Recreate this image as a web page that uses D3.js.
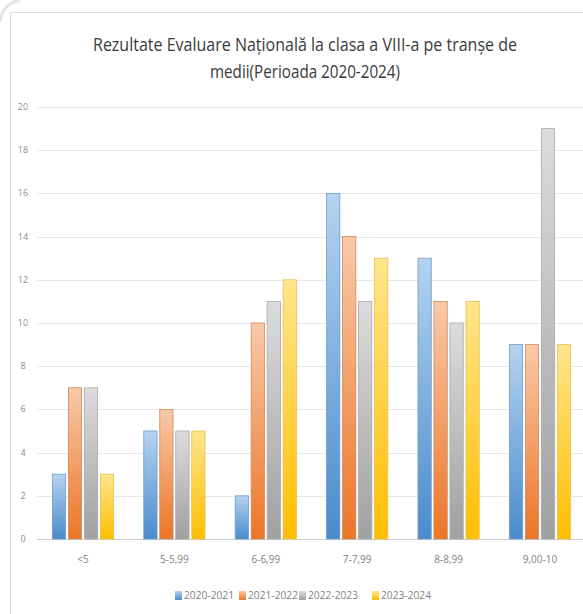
<!DOCTYPE html>
<html>
<head>
<meta charset="utf-8">
<script src="https://cdnjs.cloudflare.com/ajax/libs/d3/7.8.5/d3.min.js"></script>
<style>
  body { margin: 0; background: #ffffff; }
  svg { display: block; }
</style>
</head>
<body>
<div class="chart"></div>
<script>
var categories = ["<5", "5-5,99", "6-6,99", "7-7,99", "8-8,99", "9,00-10"];
var seriesNames = ["2020-2021", "2021-2022", "2022-2023", "2023-2024"];
var values2020 = [3, 5, 2, 16, 13, 9];
var values2021 = [7, 6, 10, 14, 11, 9];
var values2022 = [7, 5, 11, 11, 10, 19];
var values2023 = [3, 5, 12, 13, 11, 9];
var yTicks = [0, 2, 4, 6, 8, 10, 12, 14, 16, 18, 20];
var titleLines = ["Rezultate Evaluare Națională la clasa a VIII-a pe tranșe de", "medii(Perioada 2020-2024)"];

var allValues = [values2020, values2021, values2022, values2023];
var colors = [
  {light: "#b4d3f0", base: "#4a8bcc", line: "#6d9ccc"},
  {light: "#f9c9a8", base: "#ec7527", line: "#c98a62"},
  {light: "#dcdcdc", base: "#a0a0a0", line: "#a9a9a9"},
  {light: "#ffe58c", base: "#ffbe00", line: "#e8c04c"}
];

var width = 583, height = 614;
var font = "'Liberation Sans Narrow', 'Open Sans', Arial, sans-serif";

var svg = d3.select(".chart")
  .append("svg")
  .attr("width", width)
  .attr("height", height)

var defs = svg.append("defs");
colors.forEach(function(c, i) {
  var g = defs.append("linearGradient")
    .attr("id", "grad" + i)
    .attr("x1", 0).attr("y1", 0)
    .attr("x2", 0).attr("y2", 1)
  g.append("stop").attr("offset", "0%").attr("stop-color", c.light)
  g.append("stop").attr("offset", "100%").attr("stop-color", c.base)
});

// card frame
svg.append("rect")
  .attr("x", 10.5)
  .attr("y", 12.5)
  .attr("width", width)
  .attr("height", height)
  .attr("fill", "#ffffff")
  .attr("stroke", "#dcdcdc")
svg.append("path")
  .attr("d", "M0,22 Q2,4 20,0")
  .attr("fill", "none")
  .attr("stroke", "#e4e4e4")
  .attr("stroke-width", 3)

// title
var titleWidths = [424, 190];
var title = svg.append("g")
titleLines.forEach(function(t, i) {
  title.append("text")
    .attr("x", 305)
    .attr("y", 51 + i * 27)
    .attr("text-anchor", "middle")
    .attr("textLength", titleWidths[i])
    .attr("lengthAdjust", "spacingAndGlyphs")
    .style("font-family", font)
    .style("font-size", "18px")
    .style("font-weight", 500)
    .style("fill", "#3a3a3a")
    .text(t)
});

var x = d3.scaleBand()
  .domain(categories)
  .range([37.3, 585.7])
  .paddingInner(0.33)
  .paddingOuter(0.165)

var xInner = d3.scaleBand()
  .domain(d3.range(seriesNames.length))
  .range([0, x.bandwidth()])
  .paddingInner(0.17)

var y = d3.scaleLinear()
  .domain([0, 20])
  .range([539, 107])

// gridlines
svg.append("g")
  .selectAll("line")
  .data(yTicks)
  .enter()
  .append("line")
  .attr("x1", 37)
  .attr("x2", width)
  .attr("y1", function(d) { return Math.round(y(d)) + 0.5; })
  .attr("y2", function(d) { return Math.round(y(d)) + 0.5; })
  .attr("stroke", function(d) { return d === 0 ? "#cfcfcf" : "#e8e8e8"; })
  .attr("stroke-width", 1)

// y labels
svg.append("g")
  .selectAll("text")
  .data(yTicks)
  .enter()
  .append("text")
  .attr("x", 23)
  .attr("y", function(d) { return y(d) + 3; })
  .attr("text-anchor", "middle")
  .style("font-family", font)
  .style("font-size", "9px")
  .style("fill", "#8a8a8a")
  .text(function(d) { return d; })

// bars
var groups = svg.append("g")
  .selectAll("g")
  .data(categories)
  .enter()
  .append("g")
  .attr("transform", function(d) { return "translate(" + x(d) + ",0)"; })

groups.each(function(cat, ci) {
  var g = d3.select(this);
  allValues.forEach(function(vals, si) {
    g.append("rect")
      .attr("x", xInner(si))
      .attr("y", y(vals[ci]))
      .attr("width", xInner.bandwidth())
      .attr("height", y(0) - y(vals[ci]))
      .attr("fill", "url(#grad" + si + ")")
      .attr("stroke", colors[si].line)
      .attr("stroke-width", 0.8)
  });
});

// x labels
svg.append("g")
  .selectAll("text")
  .data(categories)
  .enter()
  .append("text")
  .attr("x", function(d) { return x(d) + x.bandwidth() / 2; })
  .attr("y", 563)
  .attr("text-anchor", "middle")
  .style("font-family", font)
  .style("font-size", "10px")
  .style("fill", "#7f7f7f")
  .text(function(d) { return d; })

// legend
var legendX = [175, 239, 299, 372];
var legend = svg.append("g")
legend.selectAll("g")
  .data(seriesNames)
  .enter()
  .append("g")
  .each(function(d, i) {
    var g = d3.select(this);
    g.append("rect")
      .attr("x", legendX[i])
      .attr("y", 591)
      .attr("width", 7)
      .attr("height", 9)
      .attr("fill", "url(#grad" + i + ")")
    g.append("text")
      .attr("x", legendX[i] + 9)
      .attr("y", 599)
      .attr("textLength", 50)
      .attr("lengthAdjust", "spacingAndGlyphs")
      .style("font-family", font)
      .style("font-size", "10px")
      .style("fill", "#7f7f7f")
      .text(d)
  })
</script>
</body>
</html>
